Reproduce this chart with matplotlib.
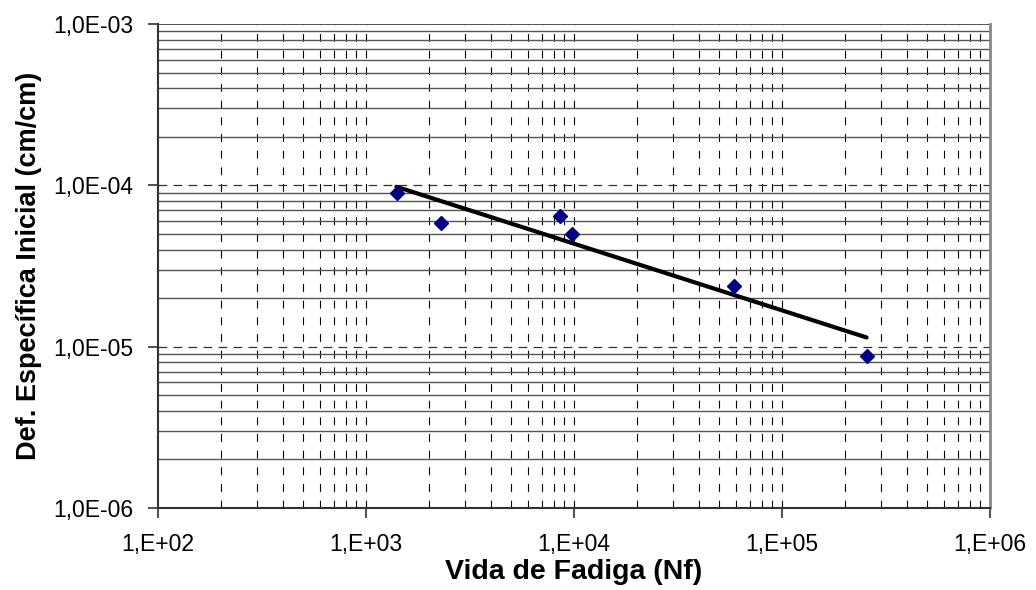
import numpy as np
import matplotlib
matplotlib.use("Agg")
import matplotlib.pyplot as plt
from matplotlib.ticker import FixedLocator, FixedFormatter, NullFormatter

# Ensaios de fadiga: deformação específica inicial x vida de fadiga
vida_nf = [1405, 2290, 8590, 9820, 58970, 255000]
def_inicial = [8.95e-5, 5.81e-5, 6.48e-5, 5.01e-5, 2.38e-5, 8.79e-6]

# Curva de ajuste (lei de potência) entre os extremos do ensaio
ajuste_nf = [1400, 255000]
ajuste_def = [9.8e-5, 1.14e-5]

x_ticks = [1e2, 1e3, 1e4, 1e5, 1e6]
x_labels = ["1,E+02", "1,E+03", "1,E+04", "1,E+05", "1,E+06"]
y_ticks = [1e-6, 1e-5, 1e-4, 1e-3]
y_labels = ["1,0E-06", "1,0E-05", "1,0E-04", "1,0E-03"]

plt.rcParams["font.family"] = ["Liberation Sans", "DejaVu Sans"]

fig = plt.figure(figsize=(10.36, 5.90), dpi=100)
ax = fig.add_axes([158 / 1036, 82 / 590, 832 / 1036, 484 / 590])

ax.set_xscale("log")
ax.set_yscale("log")
ax.set_xlim(1e2, 1e6)
ax.set_ylim(1e-6, 1e-3)

# grade: verticais tracejadas, horizontais secundárias contínuas
minor_x = [m * 10.0**e for e in range(2, 6) for m in range(2, 10)]
minor_y = [m * 10.0**e for e in range(-6, -3) for m in range(2, 10)]
for xv in x_ticks[1:-1] + minor_x:
    ax.axvline(xv, color="black", lw=0.8, ls=(0, (7, 8)), zorder=1)
for yv in minor_y:
    ax.axhline(yv, color="#555555", lw=1.0, ls="-", zorder=1)
for yv in y_ticks[1:-1]:
    ax.axhline(yv, color="#333333", lw=0.9, ls=(0, (7, 5)), zorder=1)
ax.axhline(1e-3, color="#555555", lw=1.4, zorder=1)

ax.plot(ajuste_nf, ajuste_def, color="black", lw=3.0, solid_capstyle="round", zorder=3)
ax.plot(vida_nf, def_inicial, ls="none", marker="D", ms=7.2,
        color="#000080", mec="#000080", zorder=4)

ax.xaxis.set_major_locator(FixedLocator(x_ticks))
ax.xaxis.set_major_formatter(FixedFormatter(x_labels))
ax.yaxis.set_major_locator(FixedLocator(y_ticks))
ax.yaxis.set_major_formatter(FixedFormatter(y_labels))
ax.xaxis.set_minor_formatter(NullFormatter())
ax.yaxis.set_minor_formatter(NullFormatter())
ax.tick_params(which="minor", length=0)
ax.tick_params(which="major", direction="out", length=7, width=1.2,
               color="#333333", labelsize=16.5, pad=11)

ax.spines["top"].set_visible(False)
ax.spines["left"].set_color("#333333")
ax.spines["bottom"].set_color("#333333")
ax.spines["left"].set_linewidth(1.5)
ax.spines["bottom"].set_linewidth(1.5)
ax.spines["right"].set_color("#888888")
ax.spines["right"].set_linewidth(2.0)

ax.set_xlabel("Vida de Fadiga (Nf)", fontsize=20.5, fontweight="bold", labelpad=2)
ax.set_ylabel("Def. Específica Inicial (cm/cm)", fontsize=19.5, fontweight="bold", labelpad=8)

fig.savefig("out.png", dpi=100, facecolor="white")
